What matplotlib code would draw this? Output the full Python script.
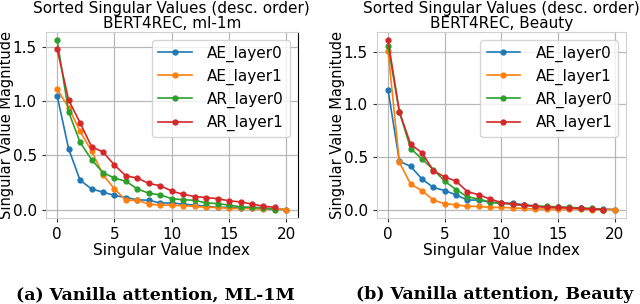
import matplotlib
matplotlib.use("Agg")
import matplotlib.pyplot as plt

idx_ae = list(range(21))
idx_ar = list(range(20))

# ml-1m
ml_ae0 = [1.05, 0.56, 0.27, 0.19, 0.16, 0.13, 0.11, 0.09, 0.085, 0.06, 0.06, 0.05, 0.04, 0.03, 0.02, 0.02, 0.015, 0.01, 0.01, 0.005, 0.0]
ml_ae1 = [1.11, 0.94, 0.72, 0.54, 0.32, 0.19, 0.085, 0.085, 0.05, 0.04, 0.04, 0.035, 0.03, 0.02, 0.02, 0.01, 0.01, 0.01, 0.005, 0.005, 0.0]
ml_ar0 = [1.56, 0.90, 0.62, 0.46, 0.34, 0.29, 0.26, 0.19, 0.15, 0.135, 0.10, 0.09, 0.085, 0.06, 0.055, 0.04, 0.025, 0.02, 0.015, 0.0]
ml_ar1 = [1.48, 1.01, 0.80, 0.58, 0.53, 0.41, 0.31, 0.29, 0.24, 0.22, 0.17, 0.14, 0.12, 0.11, 0.10, 0.08, 0.07, 0.05, 0.03, 0.02]

# Beauty
be_ae0 = [1.14, 0.46, 0.41, 0.29, 0.21, 0.18, 0.14, 0.09, 0.09, 0.07, 0.06, 0.06, 0.045, 0.035, 0.025, 0.02, 0.015, 0.01, 0.005, 0.005, 0.0]
be_ae1 = [1.51, 0.45, 0.24, 0.18, 0.09, 0.055, 0.045, 0.03, 0.03, 0.02, 0.02, 0.015, 0.01, 0.005, 0.005, 0.005, 0.005, 0.005, 0.0, 0.0, 0.0]
be_ar0 = [1.56, 0.93, 0.58, 0.48, 0.38, 0.27, 0.19, 0.12, 0.10, 0.07, 0.06, 0.05, 0.04, 0.03, 0.03, 0.025, 0.02, 0.015, 0.01, 0.0]
be_ar1 = [1.61, 0.93, 0.62, 0.54, 0.37, 0.31, 0.27, 0.17, 0.14, 0.10, 0.066, 0.05, 0.04, 0.03, 0.02, 0.02, 0.015, 0.01, 0.005, 0.0]

labels = ["AE_layer0", "AE_layer1", "AR_layer0", "AR_layer1"]
colors = ["#1f77b4", "#ff7f0e", "#2ca02c", "#d62728"]
titles = ["Sorted Singular Values (desc. order)\nBERT4REC, ml-1m",
          "Sorted Singular Values (desc. order)\nBERT4REC, Beauty"]
captions = ["(a) Vanilla attention, ML-1M", "(b) Vanilla attention, Beauty"]

plt.rcParams["font.family"] = "DejaVu Sans"
fig = plt.figure(figsize=(6.4, 3.04), dpi=100)
axes = [fig.add_axes([0.0714, 0.283, 0.394, 0.612]),
        fig.add_axes([0.5886, 0.283, 0.3895, 0.612])]

datasets = [[ml_ae0, ml_ae1, ml_ar0, ml_ar1], [be_ae0, be_ae1, be_ar0, be_ar1]]
for ax, data, title in zip(axes, datasets, titles):
    for series, lab, c in zip(data, labels, colors):
        xs = idx_ae if len(series) == 21 else idx_ar
        ax.plot(xs, series, marker="o", markersize=3.5, linewidth=1.2, color=c, label=lab)
    ax.grid(True, color="#b8b8b8", linewidth=0.9)
    ax.set_axisbelow(True)
    for s in ax.spines.values():
        s.set_color("#d0d0d0")
    ax.tick_params(labelsize=11, length=3, color="#333333")
    ax.set_xticks([0, 5, 10, 15, 20])
    ax.set_yticks([0.0, 0.5, 1.0, 1.5])
    ax.set_xlabel("Singular Value Index", fontsize=11, labelpad=1)
    ax.set_ylabel("Singular Value Magnitude", fontsize=10.5, labelpad=-1)
    ax.set_title(title, fontsize=11, pad=3, linespacing=1.0)
    ax.legend(loc="upper right", fontsize=11, handlelength=2.2, handletextpad=1.0,
              labelspacing=0.45, borderpad=0.4, framealpha=0.8)

axes[0].spines["right"].set_color("black")

fig.text(0.242, 0.016, captions[0], fontsize=12.5, fontweight="bold",
         family="DejaVu Serif", ha="center", va="baseline")
fig.text(0.773, 0.016, captions[1], fontsize=12.5, fontweight="bold",
         family="DejaVu Serif", ha="center", va="baseline")

fig.savefig("out.png", dpi=100)
